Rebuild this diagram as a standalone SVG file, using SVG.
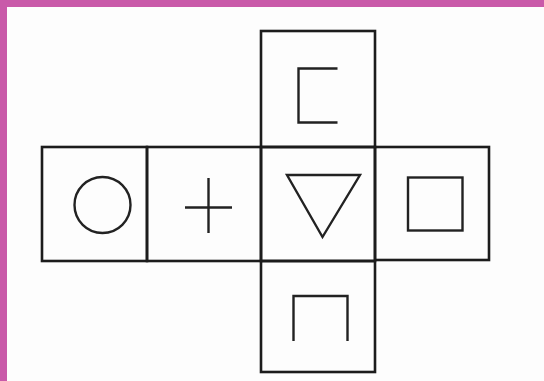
<svg xmlns="http://www.w3.org/2000/svg" width="544" height="381" viewBox="0 0 544 381">
<style>
.f{fill:none;stroke:#1c1c1c;stroke-width:2.6}
.s{fill:none;stroke:#222;stroke-width:2.4}
</style>
<rect x="0" y="0" width="544" height="381" fill="#fdfdfd"/>
<rect x="0" y="0" width="544" height="7" fill="#c95aa9"/>
<rect x="0" y="0" width="7" height="381" fill="#c95aa9"/>
<g id="face-circle">
<rect class="f" x="42" y="147" width="105" height="114"/>
<circle class="s" cx="102.5" cy="205" r="28"/>
</g>
<g id="face-plus">
<rect class="f" x="147" y="147" width="114" height="114"/>
<path class="s" d="M185 207.5H232M208.5 178V233"/>
</g>
<g id="face-top">
<rect class="f" x="261" y="31" width="114" height="116"/>
<path class="s" d="M337.5 68.5H298.5V122.5H337.5"/>
</g>
<g id="face-triangle">
<rect class="f" x="261" y="147" width="114" height="114"/>
<path class="s" d="M287 175H360L322.5 237Z"/>
</g>
<g id="face-square">
<rect class="f" x="375" y="147" width="114" height="113"/>
<rect class="s" x="408" y="177.5" width="54.5" height="53"/>
</g>
<g id="face-bottom">
<rect class="f" x="261" y="261" width="114" height="111"/>
<path class="s" d="M293.5 341V296H347.5V341"/>
</g>
<g id="connectors"></g>
</svg>
